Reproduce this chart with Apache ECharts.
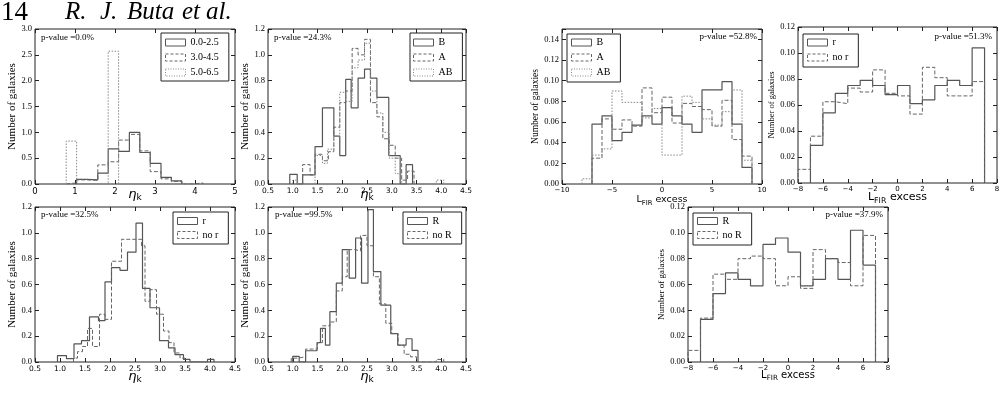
<!DOCTYPE html>
<html>
<head>
<meta charset="utf-8">
<script src="https://cdn.jsdelivr.net/npm/echarts@6/dist/echarts.min.js"></script>
<style>
  html, body { margin: 0; padding: 0; background: #fff; }
  #main { width: 1008px; height: 404px; }
</style>
</head>
<body>
<div id="main"></div>
<script>
var SERIF = 'Liberation Serif';
var SANS = 'DejaVu Sans';

// panel 1: eta_k split by T range
var p1EdgesEarly = [1.04, 1.30, 1.57, 1.83, 2.09, 2.36, 2.62, 2.88, 3.15, 3.41, 3.67];
var p1Early = [0.09, 0.08, 0.21, 0.68, 0.63, 1.00, 0.61, 0.40, 0.13, 0.06];
var p1EdgesMid = [0.78, 1.04, 1.30, 1.57, 1.83, 2.09, 2.36, 2.62, 2.88, 3.15, 3.41, 3.67, 3.93, 4.20];
var p1Mid = [0.02, 0.08, 0.07, 0.37, 0.43, 0.85, 0.96, 0.64, 0.24, 0.10, 0.05, 0, 0.02];
var p1EdgesLate = [0.78, 1.04, 1.30, 1.57, 1.83, 2.09];
var p1Late = [0.83, 0, 0, 0, 2.57];

// panel 2: eta_k by bar family
var p2EdgesB = [0.94, 1.09, 1.20, 1.45, 1.60, 1.83, 1.95, 2.07, 2.18, 2.32, 2.45, 2.57, 2.70, 2.94, 3.17, 3.29, 3.42];
var p2B = [0.075, 0, 0.07, 0.29, 0.59, 0.37, 0.22, 0.81, 0.59, 0.82, 0.89, 0.82, 0.67, 0.22, 0, 0.15];
var p2EdgesA = [1.20, 1.35, 1.45, 1.60, 1.72, 1.83, 1.95, 2.07, 2.20, 2.32, 2.45, 2.57, 2.70, 2.82, 2.95, 3.07, 3.20, 3.32, 3.45];
var p2A = [0.15, 0.07, 0.23, 0.18, 0.25, 0.44, 0.63, 0.72, 1.05, 1.00, 1.12, 0.63, 0.52, 0.35, 0.30, 0.20, 0.03, 0.10];
var p2EdgesAB = [1.00, 1.10, 1.45, 1.60, 1.70, 1.83, 1.95, 2.07, 2.20, 2.32, 2.45, 2.57, 2.70, 2.82, 2.95, 3.07, 3.20, 3.90, 4.05];
var p2AB = [0.03, 0, 0.22, 0.16, 0.27, 0.37, 0.71, 0.64, 0.90, 0.96, 1.09, 0.72, 0.55, 0.40, 0.20, 0.08, 0, 0.03];

// panel 3: eta_k, inner ring or not
var p3EdgesR = [0.95, 1.13, 1.28, 1.43, 1.59, 1.77, 1.90, 2.03, 2.20, 2.35, 2.52, 2.65, 2.80, 2.99, 3.17, 3.30, 3.47, 3.60, 3.95, 4.08];
var p3R = [0.05, 0.026, 0.14, 0.165, 0.35, 0.32, 0.62, 0.73, 0.71, 0.85, 1.075, 0.57, 0.42, 0.165, 0.11, 0.057, 0.02, 0, 0.02];
var p3EdgesNoR = [1.27, 1.35, 1.45, 1.55, 1.65, 1.79, 1.90, 2.03, 2.23, 2.63, 2.70, 2.80, 2.93, 3.07, 3.18, 3.28, 3.40, 3.50];
var p3NoR = [0.03, 0.08, 0.12, 0.26, 0.12, 0.37, 0.33, 0.78, 0.95, 0.90, 0.47, 0.56, 0.37, 0.24, 0.15, 0.07, 0.03];

// panel 4: eta_k, outer ring or not
var p4EdgesR = [1.00, 1.13, 1.26, 1.49, 1.56, 1.66, 1.75, 1.88, 2.00, 2.14, 2.27, 2.39, 2.52, 2.63, 2.78, 2.98, 3.12, 3.29, 3.41, 3.53];
var p4R = [0.044, 0, 0.087, 0.15, 0.26, 0.13, 0.39, 0.61, 0.87, 0.65, 0.96, 0.61, 1.18, 0.70, 0.44, 0.22, 0.13, 0.18, 0.09];
var p4EdgesNoR = [0.97, 1.10, 1.26, 1.40, 1.50, 1.60, 1.75, 1.88, 2.00, 2.10, 2.25, 2.37, 2.50, 2.63, 2.75, 2.88, 3.00, 3.13, 3.25, 3.38, 3.50, 3.90, 4.05];
var p4NoR = [0.03, 0.04, 0.10, 0.10, 0.15, 0.28, 0.31, 0.55, 0.66, 0.87, 0.86, 0.98, 0.90, 0.66, 0.45, 0.30, 0.22, 0.13, 0.06, 0.04, 0, 0.02];

// panels 5-7: L_FIR excess
var firEdges7 = [-7, -6, -5, -4, -3, -2, -1, 0, 1, 2, 3, 4, 5, 6, 7, 8, 9];
var firEdges8 = [-8, -7, -6, -5, -4, -3, -2, -1, 0, 1, 2, 3, 4, 5, 6, 7, 8, 9];
var firEdgesR7 = [-7, -6, -5, -4, -3, -2, -1, 0, 1, 2, 3, 4, 5, 6, 7];
var firEdgesR8 = [-8, -7, -6, -5, -4, -3, -2, -1, 0, 1, 2, 3, 4, 5, 6, 7];
var p5B = [0.058, 0.066, 0.042, 0.050, 0.057, 0.066, 0.058, 0.074, 0.066, 0.058, 0.050, 0.091, 0.091, 0.099, 0.058, 0.016];
var p5A = [0.025, 0.063, 0.053, 0.062, 0.056, 0.093, 0.069, 0.084, 0.059, 0.078, 0.075, 0.072, 0.056, 0.081, 0.043, 0.027];
var p5AB = [0.005, 0.028, 0.034, 0.090, 0.079, 0.079, 0.064, 0.073, 0.028, 0.028, 0.085, 0.079, 0.063, 0.057, 0.070, 0.091, 0.023];
var p6R = [0.029, 0.054, 0.069, 0.075, 0.079, 0.075, 0.068, 0.075, 0.061, 0.064, 0.075, 0.079, 0.075, 0.104];
var p6NoR = [0.0105, 0.036, 0.0625, 0.061, 0.073, 0.070, 0.087, 0.069, 0.067, 0.053, 0.089, 0.081, 0.067, 0.067, 0.078];
var p7R = [0.033, 0.053, 0.069, 0.064, 0.059, 0.091, 0.096, 0.085, 0.059, 0.064, 0.080, 0.064, 0.102, 0.075];
var p7NoR = [0.009, 0.034, 0.068, 0.064, 0.080, 0.082, 0.080, 0.059, 0.066, 0.057, 0.087, 0.080, 0.077, 0.059, 0.098];

var pValues = ['p-value =0.0%', 'p-value =24.3%', 'p-value =32.5%', 'p-value =99.5%', 'p-value =52.8%', 'p-value =51.3%', 'p-value =37.9%'];
var headWords = ['R.', 'J.', 'Buta', 'et', 'al.'];
var headWordX = [65, 100, 127, 182, 206];

var STY = {
  solid: { color: '#555', type: 'solid', width: 1.2 },
  dashed: { color: '#666', type: [4, 2], width: 1 },
  dotted: { color: '#888', type: [1.5, 1.5], width: 1 }
};
var ICON = { solid: 'solid', dashed: [3, 2], dotted: [1, 1.5] };

var panels = [
  { g: [35, 29, 200, 155], x: [0, 5, 1, 0], y: [0, 3, 0.5, 1], xFont: 8.5, title: 'eta', tY: 195, yGap: 15, ySize: 11,
    pv: [41, 38, 'left'], lg: [161, 33, 15, [2, 10, 1, 4]],
    s: [['0.0-2.5', p1EdgesEarly, p1Early, 'solid'], ['3.0-4.5', p1EdgesMid, p1Mid, 'dashed'], ['5.0-6.5', p1EdgesLate, p1Late, 'dotted']] },
  { g: [268, 29, 198, 155], x: [0.5, 4.5, 0.5, 1], y: [0, 1.2, 0.2, 1], xFont: 7.5, title: 'eta', tY: 195, yGap: 15, ySize: 11,
    pv: [274, 38, 'left'], lg: [410, 33, 15, [2, 10, 1, 3]],
    s: [['B', p2EdgesB, p2B, 'solid'], ['A', p2EdgesA, p2A, 'dashed'], ['AB', p2EdgesAB, p2AB, 'dotted']] },
  { g: [35, 207, 200, 155], x: [0.5, 4.5, 0.5, 1], y: [0, 1.2, 0.2, 1], xFont: 7.5, title: 'eta', tY: 377, yGap: 15, ySize: 11,
    pv: [41, 215, 'left'], lg: [173, 212, 14, [2, 10, 2, 4]],
    s: [['r', p3EdgesR, p3R, 'solid'], ['no r', p3EdgesNoR, p3NoR, 'dashed']] },
  { g: [268, 207, 198, 155], x: [0.5, 4.5, 0.5, 1], y: [0, 1.2, 0.2, 1], xFont: 7.5, title: 'eta', tY: 377, yGap: 15, ySize: 11,
    pv: [275, 215, 'left'], lg: [403, 212, 14, [2, 10, 2, 4]],
    s: [['R', p4EdgesR, p4R, 'solid'], ['no R', p4EdgesNoR, p4NoR, 'dashed']] },
  { g: [562, 29, 200, 155], x: [-10, 10, 5, 0], y: [0, 0.15, 0.02, 2], xFont: 7, title: 'fir', tY: 200, tSize: 9.5, yGap: 19, ySize: 9.5,
    pv: [757, 37, 'right'], lg: [567, 34, 15, [1, 10, 2, 4]],
    s: [['B', firEdges7, p5B, 'solid'], ['A', firEdges7, p5A, 'dashed'], ['AB', firEdges8, p5AB, 'dotted']] },
  { g: [798, 27, 199, 156], x: [-8, 8, 2, 0], y: [0, 0.12, 0.02, 2], xFont: 7, title: 'fir', tY: 197.5, tSize: 11, yGap: 17, ySize: 8.5,
    pv: [992, 37, 'right'], lg: [803, 34, 15, [1, 10, 2, 4]],
    s: [['r', firEdgesR7, p6R, 'solid'], ['no r', firEdgesR8, p6NoR, 'dashed']] },
  { g: [688, 207, 200, 155], x: [-8, 8, 2, 0], y: [0, 0.12, 0.02, 2], xFont: 7, title: 'fir', tY: 375, tSize: 10, yGap: 17, ySize: 9,
    pv: [883, 215, 'right'], lg: [693, 213, 14, [1, 10, 3, 4]],
    s: [['R', firEdgesR7, p7R, 'solid'], ['no R', firEdgesR8, p7NoR, 'dashed']] }
];

// histogram outline as step points: up from 0, across every bin, back down to 0
function stepData(edges, vals) {
  var d = [[edges[0], 0]];
  for (var i = 0; i < vals.length; i++) d.push([edges[i], vals[i]]);
  d.push([edges[edges.length - 1], 0]);
  return d;
}

function fmtX(dec) {
  return function (v) {
    var s = Math.abs(v).toFixed(dec);
    return v < -1e-9 ? '\u2212' + s : s;
  };
}
function fmtY(dec, step) {
  return function (v) {
    if (Math.abs(Math.round(v / step) * step - v) > 1e-6) return '';
    return v.toFixed(dec);
  };
}

var mctx = document.createElement('canvas').getContext('2d');
function textW(t, f) {
  mctx.font = (f.style || 'normal') + ' ' + f.size + 'px "' + f.family + '"';
  return mctx.measureText(t).width;
}

function txt(x, y, text, f, align) {
  return {
    type: 'text', x: x, y: y, silent: true,
    style: { text: text, fontSize: f.size, fontFamily: f.family, fontStyle: f.style || 'normal',
             fill: '#000', textAlign: align || 'left', align: align || 'left',
             textVerticalAlign: 'middle', verticalAlign: 'middle' }
  };
}

// pieces laid out left to right, centred on cx
function composite(cx, cy, parts) {
  var total = 0;
  parts.forEach(function (p) { p.w = textW(p.text, p.f); total += p.w; });
  var x = cx - total / 2, out = [];
  parts.forEach(function (p) { out.push(txt(x, cy + (p.dy || 0), p.text, p.f)); x += p.w; });
  return out;
}

var grids = [], xAxes = [], yAxes = [], series = [], legends = [], graphics = [];

graphics.push(txt(1, 12.5, '14', { size: 27, family: SERIF }));
headWords.forEach(function (w, k) {
  graphics.push(txt(headWordX[k], 12.5, w, { size: 25, family: SERIF, style: 'italic' }));
});

panels.forEach(function (p, i) {
  grids.push({ left: p.g[0], top: p.g[1], width: p.g[2], height: p.g[3], show: true,
               borderColor: '#222', borderWidth: 1, backgroundColor: '#fff', containLabel: false });
  var tick = { show: true, inside: true, length: 4, lineStyle: { color: '#222', width: 1 } };
  var noLine = { show: false, onZero: false };
  var xBase = { type: 'value', gridIndex: i, min: p.x[0], max: p.x[1], interval: p.x[2],
                axisLine: noLine, splitLine: { show: false }, axisTick: tick };
  xAxes.push(Object.assign({}, xBase, { position: 'bottom',
    axisLabel: { margin: 3, fontFamily: SANS, fontSize: p.xFont, color: '#000', formatter: fmtX(p.x[3]),
                 showMinLabel: true, showMaxLabel: true } }));
  xAxes.push(Object.assign({}, xBase, { position: 'top', axisLabel: { show: false } }));
  var yBase = { type: 'value', gridIndex: i, min: p.y[0], max: p.y[1], interval: p.y[2],
                axisLine: noLine, splitLine: { show: false }, axisTick: tick };
  yAxes.push(Object.assign({}, yBase, { position: 'left',
    name: 'Number of galaxies', nameLocation: 'middle', nameGap: p.yGap,
    nameTextStyle: { fontFamily: SERIF, fontSize: p.ySize, color: '#000' },
    axisLabel: { margin: 3, fontFamily: SERIF, fontSize: 8.5, color: '#000', formatter: fmtY(p.y[3], p.y[2]),
                 showMinLabel: true, showMaxLabel: true } }));
  yAxes.push(Object.assign({}, yBase, { position: 'right', axisLabel: { show: false } }));

  var lgData = [];
  p.s.forEach(function (s) {
    series.push({
      type: 'line', name: s[0], xAxisIndex: 2 * i, yAxisIndex: 2 * i,
      step: 'end', symbol: 'none', silent: true, animation: false,
      lineStyle: STY[s[3]], data: stepData(s[1], s[2])
    });
    lgData.push({ name: s[0], icon: 'rect',
      itemStyle: { color: '#fff', borderColor: STY[s[3]].color, borderWidth: 1, borderType: ICON[s[3]] } });
  });
  legends.push({
    left: p.lg[0], top: p.lg[1], orient: 'vertical', itemGap: 0, itemWidth: 20, itemHeight: 7,
    padding: p.lg[3], borderColor: '#222', borderWidth: 1, backgroundColor: '#fff', borderRadius: 0,
    selectedMode: false, data: lgData,
    textStyle: { fontFamily: SERIF, fontSize: 10, color: '#000', lineHeight: p.lg[2] }
  });

  graphics.push(txt(p.pv[0], p.pv[1], pValues[i], { size: 9, family: SERIF }, p.pv[2]));

  var cx = p.g[0] + p.g[2] / 2;
  if (p.title === 'eta') {
    graphics = graphics.concat(composite(cx, p.tY, [
      { text: '\u03b7', f: { size: 13, family: SANS, style: 'italic' } },
      { text: 'k', f: { size: 9, family: SANS }, dy: 3 }
    ]));
  } else {
    var fs = p.tSize;
    graphics = graphics.concat(composite(cx, p.tY, [
      { text: 'L', f: { size: fs, family: SANS } },
      { text: 'FIR', f: { size: Math.round(fs * 7.2) / 10, family: SANS }, dy: fs * 0.3 },
      { text: ' excess', f: { size: fs, family: SANS } }
    ]));
  }
});

var myChart = echarts.init(document.getElementById('main'));
myChart.setOption({
  animation: false,
  backgroundColor: '#fff',
  grid: grids,
  xAxis: xAxes,
  yAxis: yAxes,
  legend: legends,
  series: series,
  graphic: { elements: graphics }
});
</script>
</body>
</html>
